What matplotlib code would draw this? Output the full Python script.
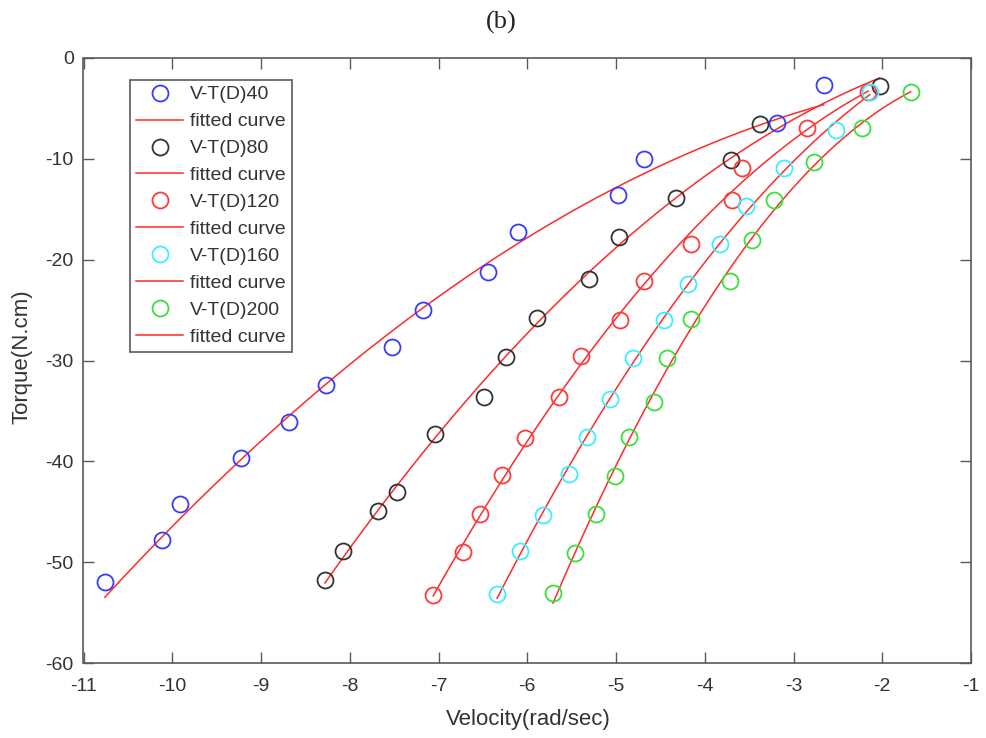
import numpy as np
import matplotlib
matplotlib.use('Agg')
import matplotlib.pyplot as plt

# ---- data ----
v40 = [-10.76, -10.12, -9.91, -9.23, -8.69, -8.27, -7.52, -7.17, -6.44, -6.10, -4.98, -4.69, -3.19, -2.66]
t40 = [-52.0, -47.8, -44.2, -39.7, -36.1, -32.4, -28.7, -24.95, -21.2, -17.3, -13.6, -10.0, -6.4, -2.7]

v80 = [-8.28, -8.08, -7.68, -7.47, -7.04, -6.49, -6.24, -5.89, -5.30, -4.97, -4.32, -3.70, -3.38, -2.03]
t80 = [-51.8, -48.9, -44.9, -43.0, -37.3, -33.6, -29.7, -25.8, -21.9, -17.8, -13.9, -10.1, -6.5, -2.8]

v120 = [-7.06, -6.72, -6.53, -6.28, -6.02, -5.64, -5.39, -4.96, -4.68, -4.16, -3.69, -3.58, -2.85, -2.16]
t120 = [-53.3, -49.0, -45.2, -41.4, -37.7, -33.6, -29.6, -26.0, -22.1, -18.4, -14.1, -10.9, -6.9, -3.4]

v160 = [-6.34, -6.08, -5.82, -5.53, -5.33, -5.07, -4.81, -4.46, -4.19, -3.83, -3.53, -3.11, -2.52, -2.14]
t160 = [-53.2, -48.9, -45.3, -41.3, -37.6, -33.8, -29.8, -26.0, -22.4, -18.4, -14.7, -10.9, -7.1, -3.4]

v200 = [-5.71, -5.46, -5.22, -5.01, -4.85, -4.57, -4.42, -4.16, -3.72, -3.47, -3.22, -2.77, -2.23, -1.68]
t200 = [-53.1, -49.1, -45.2, -41.5, -37.6, -34.1, -29.8, -25.9, -22.1, -18.0, -14.1, -10.3, -6.9, -3.4]

# samples read off the drawn fitted curve of the D40 series (it does not follow a plain LSQ fit)
fit40_v = [-10.76, -9.225, -8.27, -7.18, -6.25, -5.63, -4.99, -3.39, -2.67]
fit40_t = [-53.46, -39.77, -32.43, -25.0, -19.04, -15.77, -12.9, -6.55, -4.76]

series_labels = ['V-T(D)40', 'V-T(D)80', 'V-T(D)120', 'V-T(D)160', 'V-T(D)200']
fit_label = 'fitted curve'
xticks = list(range(-11, 0))
yticks = list(range(-60, 1, 10))
title_text = '(b)'
xlabel_text = 'Velocity(rad/sec)'
ylabel_text = 'Torque(N.cm)'

# ---- styling ----
colors = ['#3a3aff', '#333333', '#ff3a3a', '#3af0ff', '#3ae03a']
fit_color = '#ff2a2a'
spine_color = '#5a5a5a'
text_color = '#333333'

plt.rcParams['font.family'] = ['Liberation Sans', 'DejaVu Sans']

W, H = 987, 738
fig = plt.figure(figsize=(W / 100, H / 100), dpi=100)
L, R, T, B = 83.5, 971, 58, 663
ax = fig.add_axes([L / W, 1 - B / H, (R - L) / W, (B - T) / H])

data = [(v40, t40), (v80, t80), (v120, t120), (v160, t160), (v200, t200)]
fit_src = [(fit40_v, fit40_t), (v80, t80), (v120, t120), (v160, t160), (v200, t200)]
handles = []
for (vv, tt), (fv, ft), col, lab in zip(data, fit_src, colors, series_labels):
    vv = np.asarray(vv)
    tt = np.asarray(tt)
    h1, = ax.plot(vv, tt, linestyle='none', marker='o', markersize=11.5,
                  markerfacecolor='none', markeredgecolor=col, markeredgewidth=1.3,
                  label=lab, zorder=3)
    coef = np.polyfit(np.asarray(fv), np.asarray(ft), 2)
    xs = np.linspace(vv.min(), vv.max(), 200)
    h2, = ax.plot(xs, np.polyval(coef, xs), color=fit_color, linewidth=1.1,
                  label=fit_label, zorder=2)
    handles += [h1, h2]

ax.set_xlim(-11, -1)
ax.set_ylim(-60, 0)
ax.set_xticks(xticks)
ax.set_yticks(yticks)
ax.set_xticklabels([str(t) for t in xticks])
ax.set_yticklabels([str(t) for t in yticks])

for s in ax.spines.values():
    s.set_color(spine_color)
    s.set_linewidth(1.2)
ax.tick_params(direction='in', length=8, width=1.0, color=spine_color,
               top=True, right=True, labelsize=14, labelcolor=text_color)
ax.tick_params(axis='x', pad=11)
ax.tick_params(axis='y', pad=7)

xl = ax.set_xlabel(xlabel_text, fontsize=16, color=text_color)
xl.set_va('center')
ax.xaxis.set_label_coords((528 - L) / (R - L), (B - 720) / (B - T))
yl = ax.set_ylabel(ylabel_text, fontsize=16, color=text_color)
yl.set_va('center')
ax.yaxis.set_label_coords((22 - L) / (R - L), (B - 357) / (B - T))

fig.text(501 / W, 1 - 22 / H, title_text, fontsize=19, family=['Liberation Serif', 'DejaVu Serif'],
         ha='center', va='center', color='#222222')

leg = ax.legend(handles=handles, loc='upper left',
                bbox_to_anchor=((130 - L) / (R - L), 1 - (80 - T) / (B - T)),
                borderaxespad=0, fontsize=14, frameon=True, fancybox=False,
                edgecolor=spine_color, framealpha=1, handlelength=2.45,
                handletextpad=0.35, labelspacing=0.48, borderpad=0.3)
leg.get_frame().set_linewidth(1.2)
for txt in leg.get_texts():
    txt.set_color(text_color)

fig.savefig('out.png', dpi=100)
